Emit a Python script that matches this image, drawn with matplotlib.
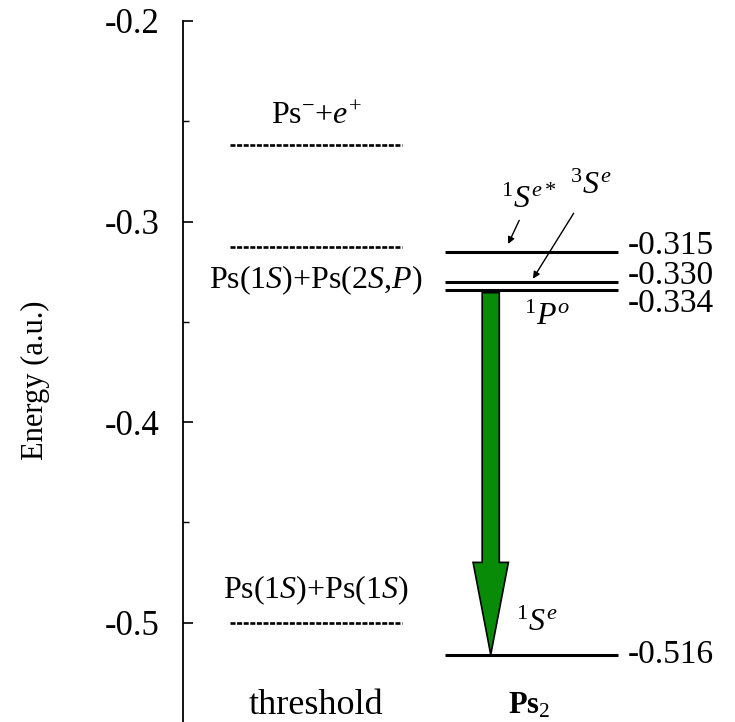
import matplotlib as mpl
mpl.use("Agg")
from matplotlib import pyplot as plt
from matplotlib.patches import FancyArrow
from matplotlib.ticker import MultipleLocator, FuncFormatter

# threshold energies (a.u.)
thr_names = [r"Ps$^{-}$+$e^{+}$", r"Ps(1$S$)+Ps(2$S$,$P$)", r"Ps(1$S$)+Ps(1$S$)"]
thr_values = [-0.262, -0.3125, -0.5]

# Ps2 bound states (a.u.)
ps2_states = [r"$^{1}S^{e*}$", r"$^{3}S^{e}$", r"$^{1}P^{o}$", r"$^{1}S^{e}$"]
ps2_values = [-0.315, -0.330, -0.334, -0.516]
ps2_labels = ["-0.315", "-0.330", "-0.334", "-0.516"]

plt.rcParams["font.family"] = ["Liberation Serif", "DejaVu Serif"]
plt.rcParams["mathtext.fontset"] = "custom"
plt.rcParams["mathtext.rm"] = "Liberation Serif"
plt.rcParams["mathtext.it"] = "Liberation Serif:italic"
plt.rcParams["mathtext.bf"] = "Liberation Serif:bold"

fig = plt.figure(figsize=(7.35, 7.22), dpi=100)
ax = fig.add_axes([183 / 735, 0, 552 / 735, 701 / 722])
ax.set_xlim(0, 1)
ax.set_ylim(-0.5496, -0.2)

for s in ["top", "right", "bottom"]:
    ax.spines[s].set_visible(False)
ax.spines["left"].set_linewidth(1.3)
ax.set_xticks([])
ax.yaxis.set_major_locator(MultipleLocator(0.1))
ax.yaxis.set_minor_locator(MultipleLocator(0.05))
ax.yaxis.set_major_formatter(FuncFormatter(lambda v, p: f"{v:.1f}".replace("\u2212", "-")))
ax.tick_params(axis="y", which="major", direction="in", length=7, width=1.2,
               labelsize=25, pad=17)
ax.tick_params(axis="y", which="minor", direction="in", length=4, width=1.0)

fig.text(35 / 735, 1 - 380 / 722, "Energy (a.u.)", rotation=90,
         ha="center", va="center", fontsize=22)

# threshold levels
thr_off = [0.0145, -0.0167, 0.0162]
for name, v, off in zip(thr_names, thr_values, thr_off):
    ax.plot([0.085, 0.397], [v, v], color="black", lw=1.9, ls=(0, (1.9, 0.6)))
    ax.text(0.241, v + off, name, ha="center", va="center", fontsize=23)

# Ps2 levels
lab_off = [0.0028, 0.003, -0.0072, -0.0002]
for v, lab, off in zip(ps2_values, ps2_labels, lab_off):
    ax.plot([0.475, 0.788], [v, v], color="black", lw=2.2, solid_capstyle="butt")
    ax.text(0.806, v + off, lab, ha="left", va="center", fontsize=24)

# state labels
ax.annotate(ps2_states[0], xy=(0.589, -0.3112), xytext=(0.626, -0.2895),
            ha="center", va="center", fontsize=23,
            arrowprops=dict(arrowstyle="-|>", color="black", lw=1.0,
                            mutation_scale=10, shrinkA=2, shrinkB=0))
ax.annotate(ps2_states[1], xy=(0.634, -0.3285), xytext=(0.738, -0.2825),
            ha="center", va="center", fontsize=23,
            arrowprops=dict(arrowstyle="-|>", color="black", lw=1.0,
                            mutation_scale=10, shrinkA=8, shrinkB=0))
ax.text(0.66, -0.348, ps2_states[2], ha="center", va="center", fontsize=23)
ax.text(0.641, -0.5005, ps2_states[3], ha="center", va="center", fontsize=23)

# transition arrow 1Po -> 1Se
y0, y1 = ps2_values[2], ps2_values[3]
arr = FancyArrow(0.5575, y0 - 0.0015, 0, (y1 - y0) + 0.0015, width=0.031,
                 head_width=0.064, head_length=0.046,
                 length_includes_head=True, facecolor="#088c08",
                 edgecolor="black", lw=1.2, zorder=3)
ax.add_patch(arr)

ax.text(0.241, -0.5415, "threshold", ha="center", va="center", fontsize=26)
ax.text(0.628, -0.5415, r"Ps$_{2}$", ha="center", va="center", fontsize=22,
        fontweight="bold")

fig.savefig("out.png", dpi=100)
